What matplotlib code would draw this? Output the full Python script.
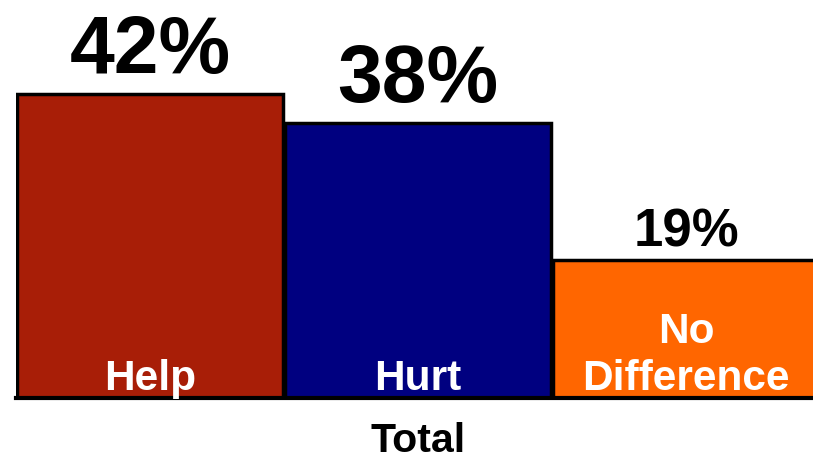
import matplotlib.pyplot as plt

# data
categories = ["Help", "Hurt", "No\nDifference"]
values = [42, 38, 19]
group_label = "Total"

colors = ["#A81E07", "#000080", "#FF6600"]
value_sizes = [58, 58, 38]

plt.rcParams['font.family'] = ['Liberation Sans', 'DejaVu Sans']

fig = plt.figure(figsize=(8.13, 4.58), dpi=100)
ax = fig.add_axes([16 / 813, 60 / 458, 804 / 813, 362 / 458])

x = range(len(categories))
bars = ax.bar(x, values, width=0.99, color=colors, edgecolor="black", linewidth=2.5)

ax.set_xlim(-0.5, 2.5)
ax.set_ylim(0, 50)
ax.axis("off")
ax.axhline(0, color="black", lw=3, clip_on=False)

for b, v, fs in zip(bars, values, value_sizes):
    cx = b.get_x() + b.get_width() / 2
    gap = 15 if fs > 40 else 10
    ax.annotate(f"{v}%", (cx, v), xytext=(0, gap), textcoords="offset points",
                ha="center", va="baseline", fontsize=fs, fontweight="bold",
                annotation_clip=False)

for b, lab in zip(bars, categories):
    cx = b.get_x() + b.get_width() / 2
    ax.annotate(lab, (cx, 0), xytext=(0, 6), textcoords="offset points",
                ha="center", va="baseline", fontsize=30.5, fontweight="bold",
                color="white", linespacing=1.22)

ax.annotate(group_label, (1, 0), xytext=(0, -39), textcoords="offset points",
            ha="center", va="baseline", fontsize=29.5, fontweight="bold",
            annotation_clip=False)

fig.savefig("out.png", dpi=100)
